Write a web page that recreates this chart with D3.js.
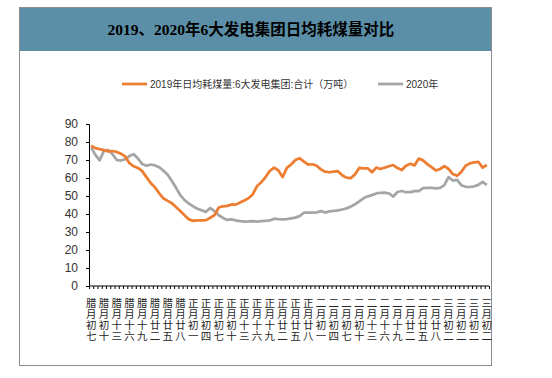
<!DOCTYPE html>
<html><head><meta charset="utf-8">
<script src="https://cdn.jsdelivr.net/npm/d3@7"></script>
<style>
html,body{margin:0;padding:0;background:#fff;}
svg{display:block;}
</style></head>
<body>
<svg id="chart" width="552" height="378"></svg>
<script>
const title = "2019、2020年6大发电集团日均耗煤量对比";
const seriesNames = ["2019年日均耗煤量:6大发电集团:合计（万吨）", "2020年"];
const tickLabels = ["腊月初七","腊月初十","腊月十三","腊月十六","腊月十九","腊月廿二","腊月廿五","腊月廿八",
"正月初一","正月初四","正月初七","正月初十","正月十三","正月十六","正月十九","正月廿二","正月廿五","正月廿八",
"二月初一","二月初四","二月初七","二月初十","二月十三","二月十六","二月十九","二月廿二","二月廿五","二月廿八",
"三月初二","三月初二","三月初二","三月初二"];
const yTicks = [0,10,20,30,40,50,60,70,80,90];
const values2019 = [78,76.6,76,75.5,74.8,75,74.5,73.5,72,68.2,66.5,65.6,63.8,60.5,57.2,54.8,51.5,48.7,47.3,46,
43.8,41.5,39.2,37,36.2,36.4,36.4,36.6,37.9,39.4,43.6,44.3,44.5,45.3,45.2,46.4,47.5,48.8,51,55.5,
57.7,60.5,64,65.7,64.2,60.5,65.6,67.5,70,71,69.1,67.5,67.6,66.8,64.8,63.5,63.2,63.5,63.8,61.5,
60.2,59.9,62,65.6,65.4,65.4,63.2,65.8,65,65.8,66.5,67.2,65.5,64.4,66.8,67.9,67,70.8,69.8,67.7,
66,64.2,65,66.6,65,62.2,61.2,63.4,66.8,68.1,68.7,69,65.8,67.2];
const values2020 = [77,72.8,69.8,75,75.6,73.3,70,69.7,70.4,72.2,73.2,70.8,67.8,66.8,67.5,67,66,64,61.8,58.2,
54.4,50.3,47.6,45.8,44.2,42.9,42,41.2,43.3,41.6,39.3,37.8,36.7,37,36.5,36.1,35.8,35.9,36.1,35.8,
36,36.2,36.4,37.4,37.1,37,37.2,37.6,38,38.8,40.7,40.7,40.7,40.9,41.6,40.8,41.5,41.7,42,42.5,
43.1,44.1,45.4,47,48.7,49.8,50.5,51.4,51.8,51.9,51.4,49.7,52.2,52.8,52.1,52.2,52.7,52.7,54.4,54.5,
54.5,54.3,54.5,56,60.5,58.6,59,56,55.1,55,55.4,56.2,57.8,56.2];
const colors = ["#ED7D31","#A5A5A5"];

const svg = d3.select("#chart");
const frame = {l:19.5, r:491.5, t:7.5, b:365.5};

// frame
svg.append("rect").attr("x",frame.l).attr("y",frame.t).attr("width",frame.r-frame.l).attr("height",frame.b-frame.t)
  .attr("fill","#fff").attr("stroke","#8c8c8c").attr("stroke-width",1);
svg.append("rect").attr("x",frame.l+0.5).attr("y",frame.t+0.5).attr("width",frame.r-frame.l-1).attr("height",43)
  .attr("fill","#5B8FA7");
svg.append("text").attr("x",251).attr("y",35).attr("text-anchor","middle")
  .attr("font-family","'Liberation Serif','Noto Sans CJK SC',serif").attr("font-weight","bold")
  .attr("font-size",15.5).attr("fill","#000").text(title);

// legend
const legend = [{x:122, tx:150}, {x:378, tx:406}];
legend.forEach((L,k)=>{
  svg.append("line").attr("x1",L.x).attr("x2",L.x+25).attr("y1",84).attr("y2",84)
    .attr("stroke",colors[k]).attr("stroke-width",2.75);
  svg.append("text").attr("x",L.tx).attr("y",88).attr("font-family","'Liberation Sans','Noto Sans CJK SC',sans-serif")
    .attr("font-size",10).attr("fill","#333").text(seriesNames[k]);
});

// scales
const n = values2019.length;
const x = d3.scaleBand().domain(d3.range(n)).range([89,489]).paddingInner(0).paddingOuter(0);
const xEdge = d3.scaleLinear().domain([0,n]).range([89,489]);
const y = d3.scaleLinear().domain([0,90]).range([286,124]);

// y axis
const yAxis = svg.append("g").attr("transform","translate(89,0)")
  .call(d3.axisLeft(y).tickValues(yTicks).tickSize(3).tickPadding(8));
yAxis.select(".domain").attr("stroke","#000");
yAxis.selectAll(".tick line").attr("stroke","#000");
yAxis.selectAll("text").attr("font-family","'Liberation Sans',Arial,sans-serif").attr("font-size",12).attr("fill","#333");

// x axis
const xAxis = svg.append("g").attr("transform","translate(0,286)")
  .call(d3.axisBottom(xEdge).tickValues(d3.range(n+1)).tickSize(3).tickFormat(""));
xAxis.select(".domain").attr("stroke","#000").attr("d","M89,0H489");
xAxis.selectAll(".tick line").attr("stroke","#000");

// x labels, characters stacked vertically
const lab = svg.append("g");
tickLabels.forEach((t,k)=>{
  const idx = k*3;
  const cx = x(idx) + x.bandwidth()/2;
  Array.from(t).forEach((ch,j)=>{
    lab.append("text").attr("x",cx).attr("y",307+j*11).attr("text-anchor","middle")
      .attr("font-family","'Noto Sans CJK SC',sans-serif").attr("font-size",10.5).attr("fill","#262626").text(ch);
  });
});

// lines
const line = d3.line().x((d,i)=>x(i)+x.bandwidth()/2).y(d=>y(d));
[values2020, values2019].forEach((vals,k)=>{
  svg.append("path").datum(vals).attr("d",line).attr("fill","none")
    .attr("stroke", k===0?colors[1]:colors[0]).attr("stroke-width",2.75).attr("stroke-linejoin","round");
});
</script>
</body></html>
